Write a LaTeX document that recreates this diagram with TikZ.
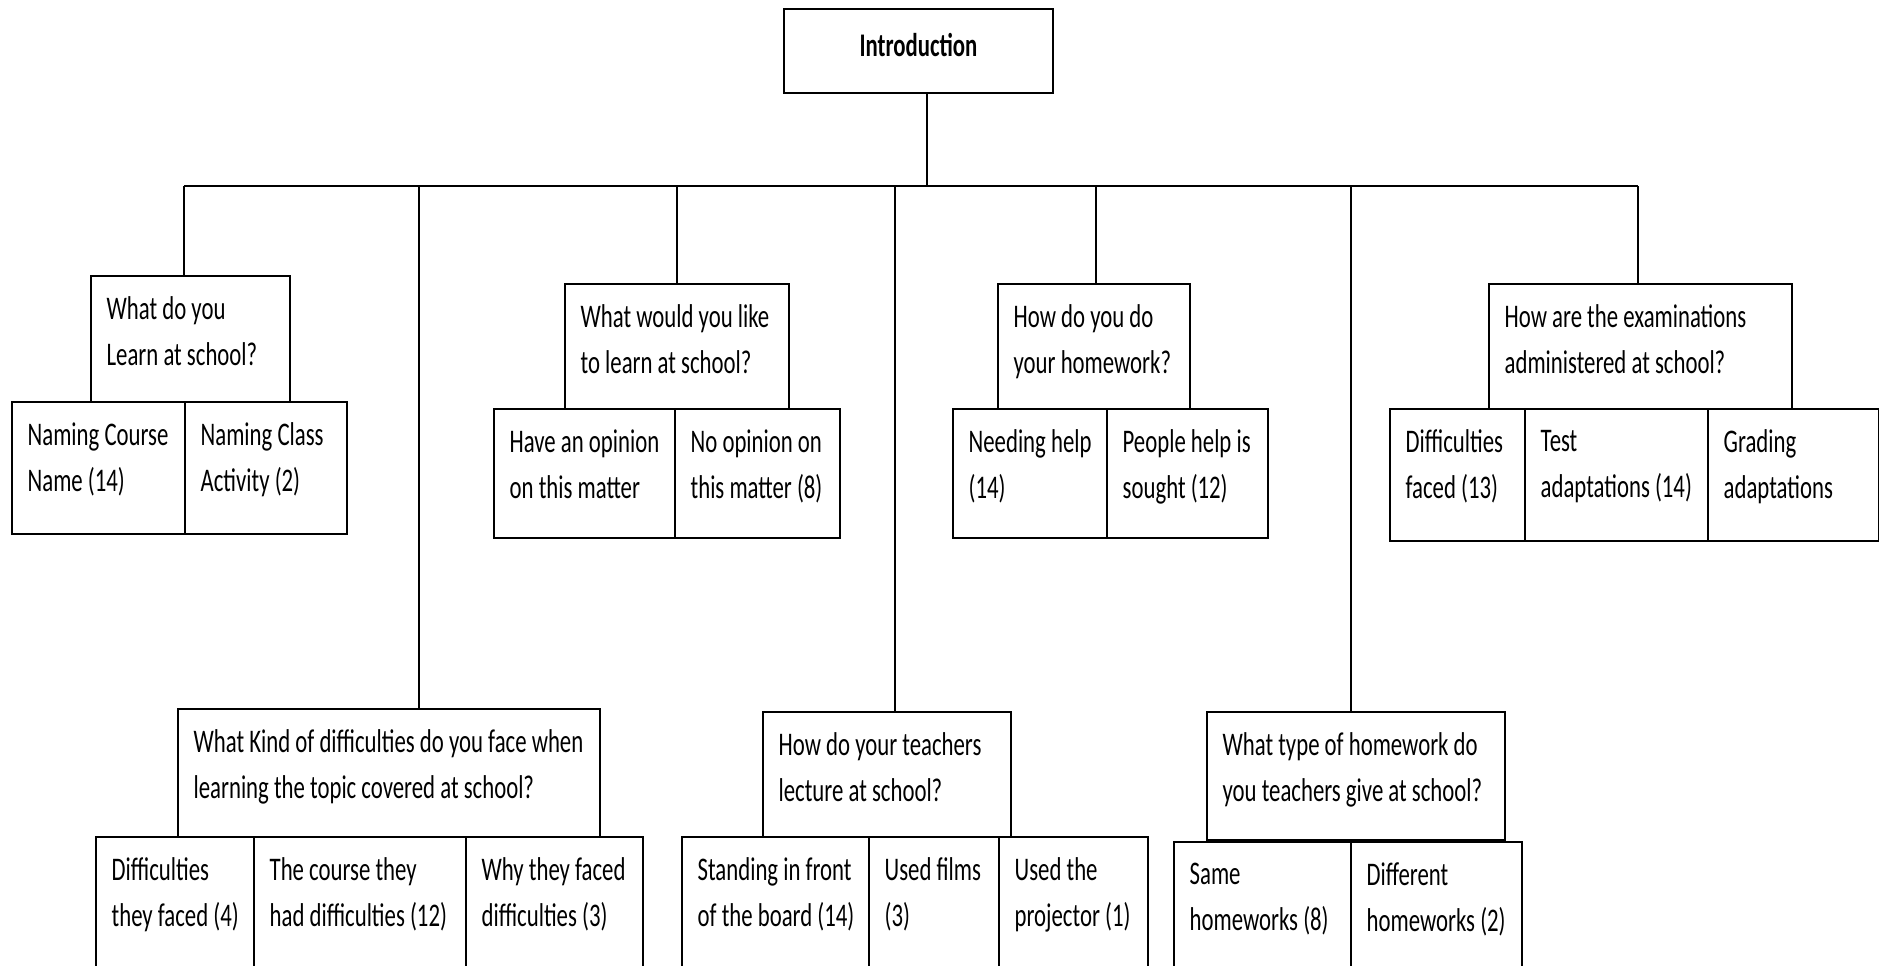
\documentclass[tikz,border=0pt]{standalone}
\usepackage{fontspec}
\setmainfont{Carlito}[FakeStretch=0.69]
\usetikzlibrary{positioning}

\begin{document}
\begin{tikzpicture}[x=0.3pt, y=-0.3pt,
  every node/.style={font=\fontsize{9.9}{13.8}\selectfont},
  cellbox/.style 2 args={draw, line width=0.6pt, rectangle, anchor=north west, inner sep=0pt, minimum width=#1*0.3pt, minimum height=#2*0.3pt},
  celltext/.style={anchor=north west, align=left, inner xsep=4.8pt, inner ysep=6.4pt, execute at begin node=\strut},
  link/.style={line width=0.5pt}]
\path[use as bounding box, clip] (0,0) rectangle (1879,966);
\node[cellbox={269}{84}, text depth=3.6pt] (intro) at (783,8) {\bfseries Introduction};
% first row of questions
\node[cellbox={199}{126}, label={[celltext]north west:{What do you\\Learn at school?}}] (q1) at (90,275) {};
\node[cellbox={173}{132}, label={[celltext]north west:{Naming Course\\Name (14)}}] (c11) at (11,401) {};
\node[cellbox={162}{132}, label={[celltext]north west:{Naming Class\\Activity (2)}}] (c12) at (184,401) {};
\node[cellbox={224}{125}, label={[celltext]north west:{What would you like\\to learn at school?}}] (q2) at (564,283) {};
\node[cellbox={181}{129}, label={[celltext]north west:{Have an opinion\\on this matter}}] (c21) at (493,408) {};
\node[cellbox={165}{129}, label={[celltext]north west:{No opinion on\\this matter (8)}}] (c22) at (674,408) {};
\node[cellbox={192}{125}, label={[celltext]north west:{How do you do\\your homework?}}] (q3) at (997,283) {};
\node[cellbox={154}{129}, label={[celltext]north west:{Needing help\\(14)}}] (c31) at (952,408) {};
\node[cellbox={161}{129}, label={[celltext]north west:{People help is\\sought (12)}}] (c32) at (1106,408) {};
\node[cellbox={303}{125}, label={[celltext]north west:{How are the examinations\\administered at school?}}] (q4) at (1488,283) {};
\node[cellbox={135}{132}, label={[celltext]north west:{Difficulties\\faced (13)}}] (c41) at (1389,408) {};
\node[cellbox={183}{132}, label={[celltext]north west:{Test\\adaptations (14)}}] (c42) at (1524,408) {};
\node[cellbox={171}{132}, label={[celltext]north west:{Grading\\adaptations}}] (c43) at (1707,408) {};
% second row of questions
\node[cellbox={422}{128}, label={[celltext]north west:{What Kind of difficulties do you face when\\learning the topic covered at school?}}] (q5) at (177,708) {};
\node[cellbox={158}{132}, label={[celltext]north west:{Difficulties\\they faced (4)}}] (c51) at (95,836) {};
\node[cellbox={212}{132}, label={[celltext]north west:{The course they\\had difficulties (12)}}] (c52) at (253,836) {};
\node[cellbox={177}{132}, label={[celltext]north west:{Why they faced\\difficulties (3)}}] (c53) at (465,836) {};
\node[cellbox={248}{125}, label={[celltext]north west:{How do your teachers\\lecture at school?}}] (q6) at (762,711) {};
\node[cellbox={187}{132}, label={[celltext]north west:{Standing in front\\of the board (14)}}] (c61) at (681,836) {};
\node[cellbox={130}{132}, label={[celltext]north west:{Used films\\(3)}}] (c62) at (868,836) {};
\node[cellbox={149}{132}, label={[celltext]north west:{Used the\\projector (1)}}] (c63) at (998,836) {};
\node[cellbox={298}{128}, label={[celltext]north west:{What type of homework do\\you teachers give at school?}}] (q7) at (1206,711) {};
\node[cellbox={177}{132}, label={[celltext]north west:{Same\\homeworks (8)}}] (c71) at (1173,841) {};
\node[cellbox={171}{132}, label={[celltext]north west:{Different\\homeworks (2)}}] (c72) at (1350,841) {};
% bus line
\coordinate (top) at (927,186);
\coordinate (j1) at (184,186);
\coordinate (j5) at (419,186);
\coordinate (j2) at (677,186);
\coordinate (j6) at (895,186);
\coordinate (j3) at (1096,186);
\coordinate (j7) at (1351,186);
\coordinate (j4) at (1638,186);
\draw[link] (intro.south -| top) -- (top);
\draw[link] (j1) -- (j4);
\draw[link] (j1) -- (j1 |- q1.north);
\draw[link] (j2) -- (j2 |- q2.north);
\draw[link] (j3) -- (j3 |- q3.north);
\draw[link] (j4) -- (j4 |- q4.north);
\draw[link] (j5) -- (j5 |- q5.north);
\draw[link] (j6) -- (j6 |- q6.north);
\draw[link] (j7) -- (j7 |- q7.north);
\end{tikzpicture}
\end{document}
